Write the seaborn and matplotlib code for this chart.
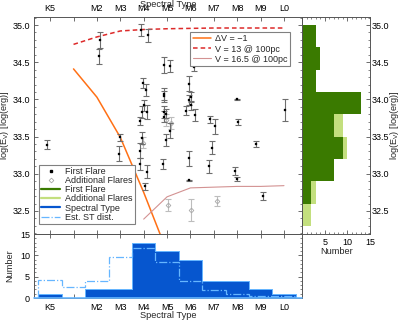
import numpy as np
import pandas as pd
import matplotlib
matplotlib.use("Agg")
import matplotlib.pyplot as plt
import seaborn as sns
from matplotlib.ticker import MultipleLocator, FixedLocator, FormatStrFormatter
from matplotlib.lines import Line2D

# ---------------- data ----------------
spt_tick_pos = [0, 1, 2, 3, 4, 5, 6, 7, 8, 9, 10]
spt_tick_lab = ['K5', '', 'M2', 'M3', 'M4', 'M5', 'M6', 'M7', 'M8', 'M9', 'L0']

first_spt = [-0.15, 2.12, 2.10, 3.00, 2.96, 3.89, 4.17, 3.98, 4.09, 4.03, 3.92, 4.15,
             3.86, 3.94, 3.86, 3.83, 4.15, 4.06, 4.86, 5.14, 4.86, 4.89, 4.86, 4.96,
             4.86, 4.96, 5.14, 4.81, 6.16, 5.95, 6.02, 5.95, 6.02, 5.81, 6.20, 5.95,
             5.92, 6.84, 7.05, 6.94, 6.80, 8.00, 8.05, 8.81, 7.89, 7.98, 9.11, 10.06]
first_logE = [33.39, 34.80, 34.58, 33.49, 33.27, 34.93, 34.86, 34.22, 34.13, 33.92, 33.83, 33.83,
              33.71, 33.48, 33.31, 33.13, 33.03, 32.83, 34.46, 34.45, 34.07, 34.04, 33.83, 33.81,
              33.77, 33.46, 33.58, 33.13, 34.44, 34.21, 34.03, 33.99, 33.92, 33.85, 33.79, 33.21,
              32.91, 33.73, 33.64, 33.35, 33.10, 34.00, 33.70, 33.40, 33.04, 32.93, 32.70, 33.86]
first_err = [0.06, 0.11, 0.10, 0.05, 0.10, 0.08, 0.09, 0.07, 0.08, 0.07, 0.08, 0.10,
             0.06, 0.08, 0.10, 0.08, 0.09, 0.05, 0.11, 0.08, 0.08, 0.07, 0.08, 0.06,
             0.07, 0.08, 0.10, 0.07, 0.06, 0.10, 0.07, 0.07, 0.06, 0.06, 0.08, 0.10,
             0.01, 0.05, 0.10, 0.09, 0.09, 0.01, 0.04, 0.04, 0.05, 0.03, 0.05, 0.15]

add_spt = [5.03, 6.02, 7.13, 3.95, 4.95, 5.15]
add_logE = [32.58, 32.51, 32.63, 33.42, 33.72, 33.68]
add_err = [0.08, 0.15, 0.07, 0.08, 0.08, 0.08]

dv_spt = [1, 2, 3, 4, 5]
dv_logE = [34.41, 34.03, 33.49, 32.75, 31.95]
v13_spt = [1, 2, 3, 4, 5, 6, 7, 8, 9, 10]
v13_logE = [34.74, 34.84, 34.92, 34.94, 34.95, 34.955, 34.96, 34.96, 34.96, 34.96]
v165_spt = [4, 5, 6, 7, 8, 9, 10]
v165_logE = [32.39, 32.69, 32.81, 32.82, 32.83, 32.83, 32.84]

st_pos = [0, 1, 2, 3, 4, 5, 6, 7, 8, 9, 10]
st_counts = [1, 0, 2, 2, 13, 11, 9, 4, 4, 2, 1]
est_counts = [4.25, 2.5, 3.9, 9.7, 11.8, 8.5, 4.0, 1.8, 1.0, 0.5, 0.5]

# ---------------- style ----------------
sns.set_theme(style="ticks")
plt.rcParams['font.family'] = ['Liberation Sans', 'DejaVu Sans']
plt.rcParams['mathtext.fontset'] = 'custom'
plt.rcParams['mathtext.rm'] = 'Liberation Sans'
plt.rcParams['mathtext.it'] = 'Liberation Sans:italic'
plt.rcParams.update({
    'xtick.direction': 'in', 'ytick.direction': 'in',
    'xtick.major.size': 3, 'ytick.major.size': 3,
    'xtick.minor.size': 1.5, 'ytick.minor.size': 1.5,
    'xtick.major.width': 0.6, 'ytick.major.width': 0.6,
    'xtick.minor.width': 0.5, 'ytick.minor.width': 0.5,
    'xtick.color': '#555555', 'ytick.color': '#555555',
    'xtick.labelcolor': 'black', 'ytick.labelcolor': 'black',
    'axes.edgecolor': '#555555', 'axes.linewidth': 0.7,
    'font.size': 6.5,
})

GREEN = '#3a7a00'
LGREEN = '#c3df7e'
BLUE = '#0656cf'
LBLUE = '#66b6ff'
ORANGE = '#ff7015'
RED = '#dd2a2a'
PINK = '#d39292'

fig = plt.figure(figsize=(4.0, 3.21), dpi=100)
W, H = 400.0, 321.0
TOP = 17
ax = fig.add_axes([34 / W, 1 - 234 / H, 268 / W, (234 - TOP) / H])
axb = fig.add_axes([34 / W, 1 - 298 / H, 268 / W, (298 - 234) / H])
axh = fig.add_axes([302 / W, 1 - 234 / H, 68 / W, (234 - TOP) / H])

XLIM = (-0.69, 10.77)
YLIM = (32.19, 35.108)
ebins = np.round(np.arange(32.0, 35.01, 0.3), 2)
sbins = np.arange(-0.5, 11.0, 1.0)

# ---------------- main panel ----------------
ax.errorbar(add_spt, add_logE, yerr=add_err, fmt='none', ecolor='#bdbdbd',
            elinewidth=0.8, capsize=2, capthick=0.8, zorder=2)
ax.plot(add_spt, add_logE, ls='none', marker='D', ms=2.4, mfc='none',
        mec='#a8a8a8', mew=0.6, zorder=3)
ax.errorbar(first_spt, first_logE, yerr=first_err, fmt='none', ecolor='#6e6e6e',
            elinewidth=0.8, capsize=2, capthick=0.8, zorder=4)
sns.scatterplot(x=first_spt, y=first_logE, ax=ax, color='black', s=4,
                marker='s', edgecolor='black', linewidth=0.2, zorder=5)

sns.lineplot(x=dv_spt, y=dv_logE, ax=ax, color=ORANGE, lw=1.1, zorder=3)
sns.lineplot(x=v13_spt, y=v13_logE, ax=ax, color=RED, lw=1.1, ls=(0, (3, 2)), zorder=3)
sns.lineplot(x=v165_spt, y=v165_logE, ax=ax, color=PINK, lw=0.8, zorder=3)

ax.set_xlim(*XLIM)
ax.set_ylim(*YLIM)
ax.xaxis.set_major_locator(FixedLocator(spt_tick_pos))
ax.set_xticklabels(spt_tick_lab)
ax.tick_params(axis='x', top=True, bottom=True, labeltop=True, labelbottom=False,
               pad=2.6, labelsize=6.5)
ax.yaxis.set_major_locator(MultipleLocator(0.5))
ax.yaxis.set_minor_locator(MultipleLocator(0.1))
ax.yaxis.set_major_formatter(FormatStrFormatter('%.1f'))
ax.tick_params(axis='y', which='both', left=True, right=True, labelsize=6.5, pad=3)
ax.set_xlabel('')
ax.set_ylabel('log(E$_{\\rm V}$) [log(erg)]', fontsize=6.6)
ax.yaxis.set_label_coords(-0.084, 0.5)
ax.text(0.5, 1.046, 'Spectral Type', transform=ax.transAxes, ha='center',
        va='baseline', fontsize=6.7)

h1 = [Line2D([], [], ls='none', marker='s', ms=2.0, color='black'),
      Line2D([], [], ls='none', marker='D', ms=2.4, mfc='none', mec='#a8a8a8', mew=0.6),
      Line2D([], [], color=GREEN, lw=1.6),
      Line2D([], [], color=LGREEN, lw=1.6),
      Line2D([], [], color=BLUE, lw=1.6),
      Line2D([], [], color=LBLUE, lw=0.9, ls='-.')]
l1 = ['First Flare', 'Additional Flares', 'First Flare', 'Additional Flares',
      'Spectral Type', 'Est. ST dist.']
leg1 = ax.legend(h1, l1, loc='lower left', bbox_to_anchor=(0.019, 0.046),
                 borderaxespad=0, fontsize=6.5, frameon=True, fancybox=False,
                 framealpha=1, edgecolor='#808080', labelspacing=0.02,
                 handlelength=2.1, handletextpad=0.5, borderpad=0.25)
leg1.get_frame().set_linewidth(0.8)
ax.add_artist(leg1)

h2 = [Line2D([], [], color=ORANGE, lw=1.1),
      Line2D([], [], color=RED, lw=1.1, ls=(0, (3, 2))),
      Line2D([], [], color=PINK, lw=0.8)]
l2 = ['\u0394V = \u22121', 'V = 13 @ 100pc', 'V = 16.5 @ 100pc']
leg2 = ax.legend(h2, l2, loc='upper right', bbox_to_anchor=(0.955, 0.93),
                 borderaxespad=0, fontsize=6.5, frameon=True, fancybox=False,
                 framealpha=1, edgecolor='#808080', labelspacing=0.12,
                 handlelength=2.0, handletextpad=0.5, borderpad=0.25)
leg2.get_frame().set_linewidth(0.8)

# ---------------- right histogram ----------------
all_logE = first_logE + add_logE
sns.histplot(y=all_logE, bins=ebins, ax=axh, element='step', fill=True,
             color=LGREEN, alpha=1, linewidth=0)
sns.histplot(y=first_logE, bins=ebins, ax=axh, element='step', fill=True,
             color=GREEN, alpha=1, linewidth=0)
axh.set_xlim(0, 15)
axh.set_ylim(*YLIM)
axh.xaxis.set_major_locator(FixedLocator([5, 10, 15]))
axh.xaxis.set_minor_locator(MultipleLocator(1))
axh.yaxis.set_major_locator(MultipleLocator(0.5))
axh.yaxis.set_minor_locator(MultipleLocator(0.1))
axh.yaxis.set_major_formatter(FormatStrFormatter('%.1f'))
axh.tick_params(axis='y', which='both', left=False, right=True, labelleft=False,
                labelright=True, labelsize=6.5, pad=1.5)
axh.tick_params(axis='x', which='both', top=True, bottom=True, labelsize=6.5, pad=3)
axh.set_xlabel('Number', fontsize=6.7)
axh.xaxis.set_label_coords(0.515, -0.062)
axh.yaxis.set_label_position('right')
axh.set_ylabel('log(E$_{\\rm V}$) [log(erg)]', fontsize=6.6, rotation=90)
axh.yaxis.set_label_coords(1.27, 0.5)
axh.set_zorder(0)
ax.set_zorder(2)

# ---------------- bottom histogram ----------------
st_samples = np.repeat(st_pos, st_counts)
sns.histplot(x=st_samples, bins=sbins, ax=axb, element='step',
             fill=True, color=BLUE, alpha=1, edgecolor=LBLUE, linewidth=0.7)
axb.stairs(est_counts, sbins, baseline=0, fill=False, color=LBLUE, lw=0.9,
           ls='-.', zorder=4)
axb.axhline(0, color=LBLUE, lw=1.2, zorder=5, clip_on=False)
axb.set_xlim(*XLIM)
axb.set_ylim(0, 15)
axb.xaxis.set_major_locator(FixedLocator(spt_tick_pos))
axb.set_xticklabels(spt_tick_lab)
axb.tick_params(axis='x', top=True, bottom=True, labelsize=6.5, pad=3.5)
axb.yaxis.set_major_locator(FixedLocator([0, 5, 10, 15]))
axb.yaxis.set_minor_locator(MultipleLocator(1))
axb.tick_params(axis='y', which='both', left=True, right=True, labelsize=6.5, pad=3)
axb.set_xlabel('Spectral Type', fontsize=6.7)
axb.xaxis.set_label_coords(0.5, -0.21)
axb.set_ylabel('Number', fontsize=6.7)
axb.yaxis.set_label_coords(-0.072, 0.5)

fig.savefig('out.png', dpi=100)
